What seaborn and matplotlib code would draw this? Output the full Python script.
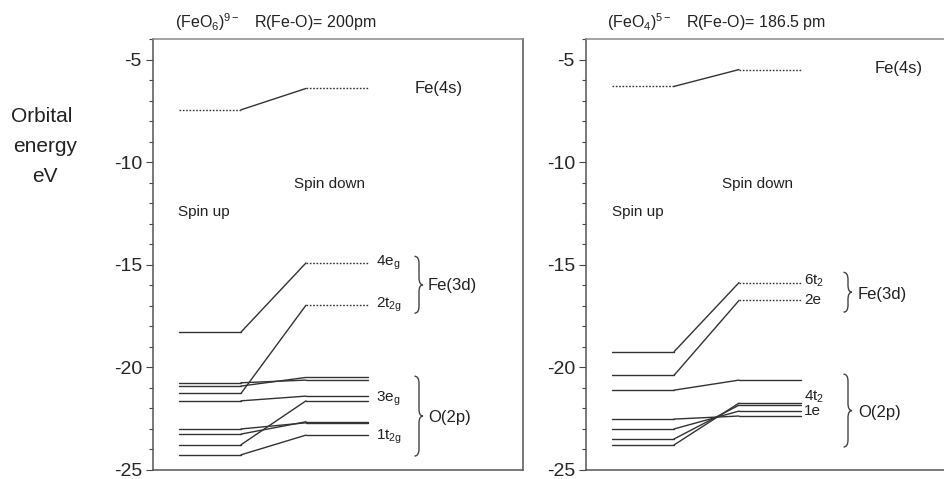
import matplotlib
matplotlib.use("Agg")
import matplotlib.pyplot as plt
import pandas as pd
import seaborn as sns
from matplotlib.path import Path
from matplotlib.patches import PathPatch
from matplotlib.ticker import MultipleLocator

sns.set_theme(style="white")
plt.rcParams["font.family"] = ["Liberation Sans", "DejaVu Sans"]
plt.rcParams["mathtext.fontset"] = "custom"
plt.rcParams["mathtext.rm"] = "Liberation Sans"
plt.rcParams["mathtext.it"] = "Liberation Sans"
plt.rcParams["mathtext.default"] = "regular"
plt.rcParams["axes.unicode_minus"] = False

# ---- (FeO6)9- : orbital energies (eV), spin up -> spin down, paired per level
oct_up = [-7.45, -18.28, -21.27, -20.75, -20.91, -21.63, -23.77, -23.00, -23.25, -24.26]
oct_down = [-6.41, -14.91, -16.97, -20.62, -20.49, -21.40, -21.63, -22.70, -22.65, -23.30]
oct_up_style = ["dotted"] + ["solid"] * 9
oct_down_style = ["dotted", "dotted", "dotted"] + ["solid"] * 7

# ---- (FeO4)5- : orbital energies (eV)
tet_up = [-6.31, -19.24, -20.39, -21.11, -22.52, -23.00, -23.49, -23.78]
tet_down = [-5.49, -15.87, -16.74, -20.62, -22.37, -22.13, -21.84, -21.74]
tet_up_style = ["dotted"] + ["solid"] * 7
tet_down_style = ["dotted", "dotted", "dotted"] + ["solid"] * 5

# level labels: (text, energy)
oct_labels = [("4e$_g$", -14.91), ("2t$_{2g}$", -16.97), ("3e$_g$", -21.55), ("1t$_{2g}$", -23.39)]
tet_labels = [("6t$_2$", -15.80), ("2e", -16.70), ("4t$_2$", -21.42), ("1e", -22.12)]

# groups of levels: (name, top energy, bottom energy, text energy)
oct_groups = [("Fe(3d)", -14.59, -17.36, -16.0), ("O(2p)", -20.43, -24.32, -22.42)]
tet_groups = [("Fe(3d)", -15.37, -17.31, -16.45), ("O(2p)", -20.33, -23.88, -22.18)]

titles = ["(FeO$_6$)$^{9-}$   R(Fe-O)= 200pm", "(FeO$_4$)$^{5-}$   R(Fe-O)= 186.5 pm"]
y_ticks = [-25, -20, -15, -10, -5]

X_UP = (26, 88)
X_DOWN = (153, 215)
LINE = "#333333"


def level_frame(up, down, up_style, down_style):
    rows = []
    for i, (eu, ed, su, sd) in enumerate(zip(up, down, up_style, down_style)):
        rows += [
            (f"{i}u", X_UP[0], eu, su), (f"{i}u", X_UP[1], eu, su),
            (f"{i}c", X_UP[1], eu, "solid"), (f"{i}c", X_DOWN[0], ed, "solid"),
            (f"{i}d", X_DOWN[0], ed, sd), (f"{i}d", X_DOWN[1], ed, sd),
        ]
    return pd.DataFrame(rows, columns=["seg", "x", "energy", "line"])


def brace(ax, x, ytop, ybot, hook=4.5, tip=4.0, r=0.35):
    ym = (ytop + ybot) / 2
    verts = [
        (x - hook, ytop), (x, ytop), (x, ytop - r),
        (x, ym + r), (x, ym), (x + tip, ym),
        (x, ym), (x, ym - r),
        (x, ybot + r), (x, ybot), (x - hook, ybot),
    ]
    codes = [
        Path.MOVETO, Path.CURVE3, Path.CURVE3,
        Path.LINETO, Path.CURVE3, Path.CURVE3,
        Path.CURVE3, Path.CURVE3,
        Path.LINETO, Path.CURVE3, Path.CURVE3,
    ]
    ax.add_patch(PathPatch(Path(verts, codes), fill=False, ec="#444444", lw=1.0))


fig = plt.figure(figsize=(9.44, 4.79), dpi=100)
W, H = 944, 479
ax_l = fig.add_axes([153 / W, 1 - 470 / H, 370 / W, 431 / H])
ax_r = fig.add_axes([586 / W, 1 - 470 / H, 370 / W, 431 / H])

panels = [
    (ax_l, oct_up, oct_down, oct_up_style, oct_down_style, oct_labels, oct_groups,
     dict(label_x=223, brace_x=266, group_x=275, s4=(262, -6.41), down=(141, -11.08), up=(25, -12.45))),
    (ax_r, tet_up, tet_down, tet_up_style, tet_down_style, tet_labels, tet_groups,
     dict(label_x=218, brace_x=262, group_x=272, s4=(289, -5.44), down=(136, -11.08), up=(26, -12.45))),
]

for ax, up, down, su, sd, labels, groups, pos in panels:
    df = level_frame(up, down, su, sd)
    sns.lineplot(data=df, x="x", y="energy", units="seg", estimator=None, sort=False,
                 style="line", dashes={"solid": "", "dotted": (1.2, 1.2)},
                 color=LINE, lw=1.0, legend=False, ax=ax)
    ax.set_xlim(0, 370)
    ax.set_ylim(-25, -4)
    ax.set_xticks([])
    ax.set_yticks(y_ticks)
    ax.set_yticklabels([str(t) for t in y_ticks])
    ax.yaxis.set_minor_locator(MultipleLocator(1))
    ax.tick_params(axis="y", which="both", left=True, direction="out", color="#444444",
                   width=0.8, labelsize=14, pad=3)
    ax.tick_params(axis="y", which="major", length=5)
    ax.tick_params(axis="y", which="minor", length=3)
    ax.set_xlabel("")
    ax.set_ylabel("")
    for name, sp in ax.spines.items():
        sp.set_color("#555555")
        sp.set_linewidth(1.1)
    ax.spines["top"].set_color("#888888")

    for text, e in labels:
        ax.text(pos["label_x"], e, text, fontsize=11, va="center", ha="left", color="#222222")
    for name, yt, yb, ey in groups:
        brace(ax, pos["brace_x"], yt, yb)
        ax.text(pos["group_x"], ey, name, fontsize=12, va="center", ha="left", color="#222222")
    ax.text(*pos["s4"], "Fe(4s)", fontsize=12, va="center", ha="left", color="#222222")
    ax.text(*pos["down"], "Spin down", fontsize=11, va="center", ha="left", color="#222222")
    ax.text(*pos["up"], "Spin up", fontsize=11, va="center", ha="left", color="#222222")

ax_r.spines["right"].set_visible(False)

fig.text(175 / W, 1 - 22 / H, titles[0], fontsize=11.5, va="center", ha="left", color="#222222")
fig.text(607 / W, 1 - 22 / H, titles[1], fontsize=11.5, va="center", ha="left", color="#222222")

fig.text(42 / W, 1 - 117 / H, "Orbital", fontsize=15, va="center", ha="center", color="#222222")
fig.text(45 / W, 1 - 146 / H, "energy", fontsize=15, va="center", ha="center", color="#222222")
fig.text(45 / W, 1 - 176 / H, "eV", fontsize=15, va="center", ha="center", color="#222222")

fig.savefig("out.png", dpi=100)
